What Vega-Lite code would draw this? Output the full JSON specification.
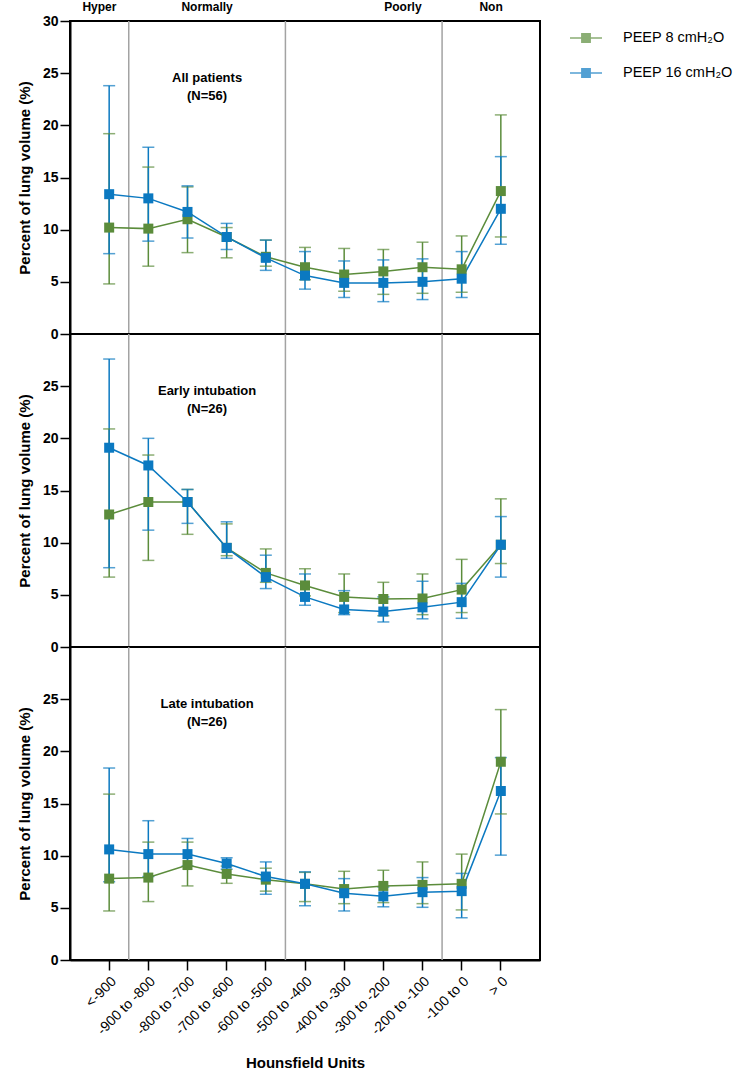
{
"$schema":"https://vega.github.io/schema/vega-lite/v6.json",
"padding":{"left":16,"top":0,"right":5,"bottom":5},
"spacing":0,
"bounds":"flush",
"config":{"font":"Liberation Sans","view":{"stroke":"black","strokeWidth":2},
"axis":{"domainColor":"black","domainWidth":2,"tickColor":"black","tickWidth":1.5,"tickSize":10,"labelColor":"black","titleColor":"black","grid":false},
"axisY":{"labelFontSize":14,"labelFontWeight":"bold","titleFontSize":15,"titleFontWeight":"bold","labelPadding":2,"titlePadding":10},
"axisX":{"labelFontSize":14,"labelPadding":4,"titleFontSize":15,"titleFontWeight":"bold","titlePadding":18}},
"datasets":{
"bounds":[{"hu":"<-900"},{"hu":"-600 to -500"},{"hu":"-200 to -100"}],
"regA":[{"hu":"<-900","t":"Hyper"},{"hu":"> 0","t":"Non"}],
"regB":[{"hu":"-800 to -700","t":"Normally"},{"hu":"-300 to -200","t":"Poorly"}],
"titles":[{"p":"all","hu":"-800 to -700","t":"All patients\n(N=56)"},{"p":"early","hu":"-800 to -700","t":"Early intubation\n(N=26)"},{"p":"late","hu":"-800 to -700","t":"Late intubation\n(N=26)"}],
"d":[
{"p":"all","g":"PEEP 8 cmH₂O","hu":"<-900","m":10.2,"lo":4.8,"hi":19.2},
{"p":"all","g":"PEEP 8 cmH₂O","hu":"-900 to -800","m":10.1,"lo":6.5,"hi":16.0},
{"p":"all","g":"PEEP 8 cmH₂O","hu":"-800 to -700","m":11.0,"lo":7.8,"hi":14.1},
{"p":"all","g":"PEEP 8 cmH₂O","hu":"-700 to -600","m":9.3,"lo":7.3,"hi":10.2},
{"p":"all","g":"PEEP 8 cmH₂O","hu":"-600 to -500","m":7.4,"lo":6.5,"hi":9.0},
{"p":"all","g":"PEEP 8 cmH₂O","hu":"-500 to -400","m":6.4,"lo":5.2,"hi":8.3},
{"p":"all","g":"PEEP 8 cmH₂O","hu":"-400 to -300","m":5.7,"lo":4.1,"hi":8.2},
{"p":"all","g":"PEEP 8 cmH₂O","hu":"-300 to -200","m":6.0,"lo":3.8,"hi":8.1},
{"p":"all","g":"PEEP 8 cmH₂O","hu":"-200 to -100","m":6.4,"lo":3.9,"hi":8.8},
{"p":"all","g":"PEEP 8 cmH₂O","hu":"-100 to 0","m":6.2,"lo":4.0,"hi":9.4},
{"p":"all","g":"PEEP 8 cmH₂O","hu":"> 0","m":13.7,"lo":9.3,"hi":21.0},
{"p":"early","g":"PEEP 8 cmH₂O","hu":"<-900","m":12.7,"lo":6.7,"hi":20.9},
{"p":"early","g":"PEEP 8 cmH₂O","hu":"-900 to -800","m":13.9,"lo":8.3,"hi":18.4},
{"p":"early","g":"PEEP 8 cmH₂O","hu":"-800 to -700","m":13.9,"lo":10.8,"hi":15.1},
{"p":"early","g":"PEEP 8 cmH₂O","hu":"-700 to -600","m":9.5,"lo":8.75,"hi":11.8},
{"p":"early","g":"PEEP 8 cmH₂O","hu":"-600 to -500","m":7.1,"lo":6.2,"hi":9.4},
{"p":"early","g":"PEEP 8 cmH₂O","hu":"-500 to -400","m":5.9,"lo":4.9,"hi":7.5},
{"p":"early","g":"PEEP 8 cmH₂O","hu":"-400 to -300","m":4.8,"lo":3.3,"hi":7.0},
{"p":"early","g":"PEEP 8 cmH₂O","hu":"-300 to -200","m":4.6,"lo":3.0,"hi":6.2},
{"p":"early","g":"PEEP 8 cmH₂O","hu":"-200 to -100","m":4.65,"lo":3.1,"hi":7.0},
{"p":"early","g":"PEEP 8 cmH₂O","hu":"-100 to 0","m":5.5,"lo":3.3,"hi":8.4},
{"p":"early","g":"PEEP 8 cmH₂O","hu":"> 0","m":9.8,"lo":8.0,"hi":14.2},
{"p":"late","g":"PEEP 8 cmH₂O","hu":"<-900","m":7.8,"lo":4.7,"hi":15.9},
{"p":"late","g":"PEEP 8 cmH₂O","hu":"-900 to -800","m":7.9,"lo":5.6,"hi":11.3},
{"p":"late","g":"PEEP 8 cmH₂O","hu":"-800 to -700","m":9.1,"lo":7.1,"hi":11.3},
{"p":"late","g":"PEEP 8 cmH₂O","hu":"-700 to -600","m":8.25,"lo":7.35,"hi":9.0},
{"p":"late","g":"PEEP 8 cmH₂O","hu":"-600 to -500","m":7.7,"lo":6.6,"hi":8.8},
{"p":"late","g":"PEEP 8 cmH₂O","hu":"-500 to -400","m":7.3,"lo":5.6,"hi":8.4},
{"p":"late","g":"PEEP 8 cmH₂O","hu":"-400 to -300","m":6.8,"lo":5.4,"hi":8.5},
{"p":"late","g":"PEEP 8 cmH₂O","hu":"-300 to -200","m":7.1,"lo":5.5,"hi":8.6},
{"p":"late","g":"PEEP 8 cmH₂O","hu":"-200 to -100","m":7.2,"lo":5.4,"hi":9.4},
{"p":"late","g":"PEEP 8 cmH₂O","hu":"-100 to 0","m":7.3,"lo":4.8,"hi":10.15},
{"p":"late","g":"PEEP 8 cmH₂O","hu":"> 0","m":19.0,"lo":14.0,"hi":24.0},
{"p":"all","g":"PEEP 16 cmH₂O","hu":"<-900","m":13.4,"lo":7.7,"hi":23.8},
{"p":"all","g":"PEEP 16 cmH₂O","hu":"-900 to -800","m":13.0,"lo":8.9,"hi":17.9},
{"p":"all","g":"PEEP 16 cmH₂O","hu":"-800 to -700","m":11.7,"lo":9.2,"hi":14.2},
{"p":"all","g":"PEEP 16 cmH₂O","hu":"-700 to -600","m":9.3,"lo":8.1,"hi":10.6},
{"p":"all","g":"PEEP 16 cmH₂O","hu":"-600 to -500","m":7.3,"lo":6.1,"hi":9.0},
{"p":"all","g":"PEEP 16 cmH₂O","hu":"-500 to -400","m":5.6,"lo":4.3,"hi":7.9},
{"p":"all","g":"PEEP 16 cmH₂O","hu":"-400 to -300","m":4.9,"lo":3.5,"hi":7.0},
{"p":"all","g":"PEEP 16 cmH₂O","hu":"-300 to -200","m":4.9,"lo":3.1,"hi":7.1},
{"p":"all","g":"PEEP 16 cmH₂O","hu":"-200 to -100","m":5.0,"lo":3.3,"hi":7.2},
{"p":"all","g":"PEEP 16 cmH₂O","hu":"-100 to 0","m":5.3,"lo":3.5,"hi":7.9},
{"p":"all","g":"PEEP 16 cmH₂O","hu":"> 0","m":12.0,"lo":8.6,"hi":17.0},
{"p":"early","g":"PEEP 16 cmH₂O","hu":"<-900","m":19.1,"lo":7.6,"hi":27.6},
{"p":"early","g":"PEEP 16 cmH₂O","hu":"-900 to -800","m":17.4,"lo":11.2,"hi":20.0},
{"p":"early","g":"PEEP 16 cmH₂O","hu":"-800 to -700","m":13.9,"lo":11.85,"hi":15.1},
{"p":"early","g":"PEEP 16 cmH₂O","hu":"-700 to -600","m":9.5,"lo":8.5,"hi":12.0},
{"p":"early","g":"PEEP 16 cmH₂O","hu":"-600 to -500","m":6.7,"lo":5.6,"hi":8.8},
{"p":"early","g":"PEEP 16 cmH₂O","hu":"-500 to -400","m":4.8,"lo":4.0,"hi":7.0},
{"p":"early","g":"PEEP 16 cmH₂O","hu":"-400 to -300","m":3.6,"lo":3.1,"hi":5.4},
{"p":"early","g":"PEEP 16 cmH₂O","hu":"-300 to -200","m":3.4,"lo":2.4,"hi":4.8},
{"p":"early","g":"PEEP 16 cmH₂O","hu":"-200 to -100","m":3.8,"lo":2.7,"hi":6.3},
{"p":"early","g":"PEEP 16 cmH₂O","hu":"-100 to 0","m":4.3,"lo":2.75,"hi":6.1},
{"p":"early","g":"PEEP 16 cmH₂O","hu":"> 0","m":9.8,"lo":6.7,"hi":12.5},
{"p":"late","g":"PEEP 16 cmH₂O","hu":"<-900","m":10.6,"lo":7.5,"hi":18.4},
{"p":"late","g":"PEEP 16 cmH₂O","hu":"-900 to -800","m":10.15,"lo":8.0,"hi":13.35},
{"p":"late","g":"PEEP 16 cmH₂O","hu":"-800 to -700","m":10.15,"lo":9.0,"hi":11.65},
{"p":"late","g":"PEEP 16 cmH₂O","hu":"-700 to -600","m":9.25,"lo":8.7,"hi":9.8},
{"p":"late","g":"PEEP 16 cmH₂O","hu":"-600 to -500","m":8.0,"lo":6.3,"hi":9.4},
{"p":"late","g":"PEEP 16 cmH₂O","hu":"-500 to -400","m":7.3,"lo":5.2,"hi":8.45},
{"p":"late","g":"PEEP 16 cmH₂O","hu":"-400 to -300","m":6.4,"lo":4.7,"hi":7.8},
{"p":"late","g":"PEEP 16 cmH₂O","hu":"-300 to -200","m":6.1,"lo":5.1,"hi":7.0},
{"p":"late","g":"PEEP 16 cmH₂O","hu":"-200 to -100","m":6.5,"lo":5.05,"hi":7.9},
{"p":"late","g":"PEEP 16 cmH₂O","hu":"-100 to 0","m":6.6,"lo":4.05,"hi":8.3},
{"p":"late","g":"PEEP 16 cmH₂O","hu":"> 0","m":16.2,"lo":10.05,"hi":19.4}
]},
"vconcat":[
{"width":470,"height":313,
"layer":[
{"data":{"name":"bounds"},"mark":{"type":"rule","color":"#a3a3a3","strokeWidth":1.5},
"encoding":{"x":{"field":"hu","type":"ordinal","bandPosition":1,"sort":["<-900","-900 to -800","-800 to -700","-700 to -600","-600 to -500","-500 to -400","-400 to -300","-300 to -200","-200 to -100","-100 to 0","> 0"],"scale":{"domain":["<-900","-900 to -800","-800 to -700","-700 to -600","-600 to -500","-500 to -400","-400 to -300","-300 to -200","-200 to -100","-100 to 0","> 0"],"paddingInner":0,"paddingOuter":0.5},"axis":null}}},
{"data":{"name":"d"},"transform":[{"filter":"datum.p==='all'"}],"mark":{"type":"rule","strokeWidth":1.5},
"encoding":{"x":{"field":"hu","type":"ordinal","sort":["<-900","-900 to -800","-800 to -700","-700 to -600","-600 to -500","-500 to -400","-400 to -300","-300 to -200","-200 to -100","-100 to 0","> 0"],"axis":null},
"y":{"field":"lo","type":"quantitative","scale":{"domain":[0,30],"nice":false},"axis":{"values":[0,5,10,15,20,25,30],"title":"Percent of lung volume (%)"}},"y2":{"field":"hi"},
"color":{"field":"g","type":"nominal","scale":{"domain":["PEEP 8 cmH₂O","PEEP 16 cmH₂O"],"range":["#5B8C3B","#0B79C1"]}}}},
{"data":{"name":"d"},"transform":[{"filter":"datum.p==='all'"}],"mark":{"type":"tick","size":12,"thickness":1.5},
"encoding":{"x":{"field":"hu","type":"ordinal","sort":["<-900","-900 to -800","-800 to -700","-700 to -600","-600 to -500","-500 to -400","-400 to -300","-300 to -200","-200 to -100","-100 to 0","> 0"],"axis":null},
"y":{"field":"lo","type":"quantitative","axis":{"values":[0,5,10,15,20,25,30],"title":"Percent of lung volume (%)"}},
"color":{"field":"g","type":"nominal"}}},
{"data":{"name":"d"},"transform":[{"filter":"datum.p==='all'"}],"mark":{"type":"tick","size":12,"thickness":1.5},
"encoding":{"x":{"field":"hu","type":"ordinal","sort":["<-900","-900 to -800","-800 to -700","-700 to -600","-600 to -500","-500 to -400","-400 to -300","-300 to -200","-200 to -100","-100 to 0","> 0"],"axis":null},
"y":{"field":"hi","type":"quantitative","axis":{"values":[0,5,10,15,20,25,30],"title":"Percent of lung volume (%)"}},
"color":{"field":"g","type":"nominal"}}},
{"data":{"name":"d"},"transform":[{"filter":"datum.p==='all'"}],"mark":{"type":"line","strokeWidth":1.5},
"encoding":{"x":{"field":"hu","type":"ordinal","sort":["<-900","-900 to -800","-800 to -700","-700 to -600","-600 to -500","-500 to -400","-400 to -300","-300 to -200","-200 to -100","-100 to 0","> 0"],"axis":null},
"y":{"field":"m","type":"quantitative","axis":{"values":[0,5,10,15,20,25,30],"title":"Percent of lung volume (%)"}},
"color":{"field":"g","type":"nominal"}}},
{"data":{"name":"d"},"transform":[{"filter":"datum.p==='all'"}],"mark":{"type":"square","size":100,"opacity":1},
"encoding":{"x":{"field":"hu","type":"ordinal","sort":["<-900","-900 to -800","-800 to -700","-700 to -600","-600 to -500","-500 to -400","-400 to -300","-300 to -200","-200 to -100","-100 to 0","> 0"],"axis":null},
"y":{"field":"m","type":"quantitative","axis":{"values":[0,5,10,15,20,25,30],"title":"Percent of lung volume (%)"}},
"color":{"field":"g","type":"nominal","legend":{"title":null,"orient":"right","offset":28,"padding":0,"labelFontSize":14.5,"labelColor":"black","labelOffset":20,"symbolType":"M-1,0H1M-0.26,-0.26H0.26V0.26H-0.26Z","symbolSize":1024,"symbolStrokeWidth":1.5,"rowPadding":10,"encode":{"symbols":{"update":{"fill":{"scale":"color","field":"value"},"stroke":{"scale":"color","field":"value"},"opacity":{"value":1}}}}}}}},
{"data":{"name":"titles"},"transform":[{"filter":"datum.p==='all'"}],"mark":{"type":"text","fontSize":13,"fontWeight":"bold","lineBreak":"\n","lineHeight":18,"color":"black"},
"encoding":{"x":{"field":"hu","type":"ordinal","bandPosition":1,"sort":["<-900","-900 to -800","-800 to -700","-700 to -600","-600 to -500","-500 to -400","-400 to -300","-300 to -200","-200 to -100","-100 to 0","> 0"],"axis":null},
"y":{"datum":24.5,"type":"quantitative"},"text":{"field":"t"}}},
{"data":{"name":"regA"},"mark":{"type":"text","fontSize":12,"fontWeight":"bold","dy":-14,"color":"black"},
"encoding":{"x":{"field":"hu","type":"ordinal","bandPosition":0.25,"sort":["<-900","-900 to -800","-800 to -700","-700 to -600","-600 to -500","-500 to -400","-400 to -300","-300 to -200","-200 to -100","-100 to 0","> 0"],"axis":null},
"y":{"datum":30,"type":"quantitative"},"text":{"field":"t"}}},
{"data":{"name":"regB"},"mark":{"type":"text","fontSize":12,"fontWeight":"bold","dy":-14,"color":"black"},
"encoding":{"x":{"field":"hu","type":"ordinal","bandPosition":1,"sort":["<-900","-900 to -800","-800 to -700","-700 to -600","-600 to -500","-500 to -400","-400 to -300","-300 to -200","-200 to -100","-100 to 0","> 0"],"axis":null},
"y":{"datum":30,"type":"quantitative"},"text":{"field":"t"}}}
]},
{"width":470,"height":313,
"layer":[
{"data":{"name":"bounds"},"mark":{"type":"rule","color":"#a3a3a3","strokeWidth":1.5},
"encoding":{"x":{"field":"hu","type":"ordinal","bandPosition":1,"sort":["<-900","-900 to -800","-800 to -700","-700 to -600","-600 to -500","-500 to -400","-400 to -300","-300 to -200","-200 to -100","-100 to 0","> 0"],"scale":{"domain":["<-900","-900 to -800","-800 to -700","-700 to -600","-600 to -500","-500 to -400","-400 to -300","-300 to -200","-200 to -100","-100 to 0","> 0"],"paddingInner":0,"paddingOuter":0.5},"axis":null}}},
{"data":{"name":"d"},"transform":[{"filter":"datum.p==='early'"}],"mark":{"type":"rule","strokeWidth":1.5},
"encoding":{"x":{"field":"hu","type":"ordinal","sort":["<-900","-900 to -800","-800 to -700","-700 to -600","-600 to -500","-500 to -400","-400 to -300","-300 to -200","-200 to -100","-100 to 0","> 0"],"axis":null},
"y":{"field":"lo","type":"quantitative","scale":{"domain":[0,30],"nice":false},"axis":{"values":[0,5,10,15,20,25],"title":"Percent of lung volume (%)"}},"y2":{"field":"hi"},
"color":{"field":"g","type":"nominal","scale":{"domain":["PEEP 8 cmH₂O","PEEP 16 cmH₂O"],"range":["#5B8C3B","#0B79C1"]}}}},
{"data":{"name":"d"},"transform":[{"filter":"datum.p==='early'"}],"mark":{"type":"tick","size":12,"thickness":1.5},
"encoding":{"x":{"field":"hu","type":"ordinal","sort":["<-900","-900 to -800","-800 to -700","-700 to -600","-600 to -500","-500 to -400","-400 to -300","-300 to -200","-200 to -100","-100 to 0","> 0"],"axis":null},
"y":{"field":"lo","type":"quantitative","axis":{"values":[0,5,10,15,20,25],"title":"Percent of lung volume (%)"}},
"color":{"field":"g","type":"nominal"}}},
{"data":{"name":"d"},"transform":[{"filter":"datum.p==='early'"}],"mark":{"type":"tick","size":12,"thickness":1.5},
"encoding":{"x":{"field":"hu","type":"ordinal","sort":["<-900","-900 to -800","-800 to -700","-700 to -600","-600 to -500","-500 to -400","-400 to -300","-300 to -200","-200 to -100","-100 to 0","> 0"],"axis":null},
"y":{"field":"hi","type":"quantitative","axis":{"values":[0,5,10,15,20,25],"title":"Percent of lung volume (%)"}},
"color":{"field":"g","type":"nominal"}}},
{"data":{"name":"d"},"transform":[{"filter":"datum.p==='early'"}],"mark":{"type":"line","strokeWidth":1.5},
"encoding":{"x":{"field":"hu","type":"ordinal","sort":["<-900","-900 to -800","-800 to -700","-700 to -600","-600 to -500","-500 to -400","-400 to -300","-300 to -200","-200 to -100","-100 to 0","> 0"],"axis":null},
"y":{"field":"m","type":"quantitative","axis":{"values":[0,5,10,15,20,25],"title":"Percent of lung volume (%)"}},
"color":{"field":"g","type":"nominal"}}},
{"data":{"name":"d"},"transform":[{"filter":"datum.p==='early'"}],"mark":{"type":"square","size":100,"opacity":1},
"encoding":{"x":{"field":"hu","type":"ordinal","sort":["<-900","-900 to -800","-800 to -700","-700 to -600","-600 to -500","-500 to -400","-400 to -300","-300 to -200","-200 to -100","-100 to 0","> 0"],"axis":null},
"y":{"field":"m","type":"quantitative","axis":{"values":[0,5,10,15,20,25],"title":"Percent of lung volume (%)"}},
"color":{"field":"g","type":"nominal"}}},
{"data":{"name":"titles"},"transform":[{"filter":"datum.p==='early'"}],"mark":{"type":"text","fontSize":13,"fontWeight":"bold","lineBreak":"\n","lineHeight":18,"color":"black"},
"encoding":{"x":{"field":"hu","type":"ordinal","bandPosition":1,"sort":["<-900","-900 to -800","-800 to -700","-700 to -600","-600 to -500","-500 to -400","-400 to -300","-300 to -200","-200 to -100","-100 to 0","> 0"],"axis":null},
"y":{"datum":24.5,"type":"quantitative"},"text":{"field":"t"}}}
]},
{"width":470,"height":313,
"layer":[
{"data":{"name":"bounds"},"mark":{"type":"rule","color":"#a3a3a3","strokeWidth":1.5},
"encoding":{"x":{"field":"hu","type":"ordinal","bandPosition":1,"sort":["<-900","-900 to -800","-800 to -700","-700 to -600","-600 to -500","-500 to -400","-400 to -300","-300 to -200","-200 to -100","-100 to 0","> 0"],"scale":{"domain":["<-900","-900 to -800","-800 to -700","-700 to -600","-600 to -500","-500 to -400","-400 to -300","-300 to -200","-200 to -100","-100 to 0","> 0"],"paddingInner":0,"paddingOuter":0.5},"axis":{"title":"Hounsfield Units","labelAngle":-45}}}},
{"data":{"name":"d"},"transform":[{"filter":"datum.p==='late'"}],"mark":{"type":"rule","strokeWidth":1.5},
"encoding":{"x":{"field":"hu","type":"ordinal","sort":["<-900","-900 to -800","-800 to -700","-700 to -600","-600 to -500","-500 to -400","-400 to -300","-300 to -200","-200 to -100","-100 to 0","> 0"],"axis":{"title":"Hounsfield Units","labelAngle":-45}},
"y":{"field":"lo","type":"quantitative","scale":{"domain":[0,30],"nice":false},"axis":{"values":[0,5,10,15,20,25],"title":"Percent of lung volume (%)"}},"y2":{"field":"hi"},
"color":{"field":"g","type":"nominal","scale":{"domain":["PEEP 8 cmH₂O","PEEP 16 cmH₂O"],"range":["#5B8C3B","#0B79C1"]}}}},
{"data":{"name":"d"},"transform":[{"filter":"datum.p==='late'"}],"mark":{"type":"tick","size":12,"thickness":1.5},
"encoding":{"x":{"field":"hu","type":"ordinal","sort":["<-900","-900 to -800","-800 to -700","-700 to -600","-600 to -500","-500 to -400","-400 to -300","-300 to -200","-200 to -100","-100 to 0","> 0"],"axis":{"title":"Hounsfield Units","labelAngle":-45}},
"y":{"field":"lo","type":"quantitative","axis":{"values":[0,5,10,15,20,25],"title":"Percent of lung volume (%)"}},
"color":{"field":"g","type":"nominal"}}},
{"data":{"name":"d"},"transform":[{"filter":"datum.p==='late'"}],"mark":{"type":"tick","size":12,"thickness":1.5},
"encoding":{"x":{"field":"hu","type":"ordinal","sort":["<-900","-900 to -800","-800 to -700","-700 to -600","-600 to -500","-500 to -400","-400 to -300","-300 to -200","-200 to -100","-100 to 0","> 0"],"axis":{"title":"Hounsfield Units","labelAngle":-45}},
"y":{"field":"hi","type":"quantitative","axis":{"values":[0,5,10,15,20,25],"title":"Percent of lung volume (%)"}},
"color":{"field":"g","type":"nominal"}}},
{"data":{"name":"d"},"transform":[{"filter":"datum.p==='late'"}],"mark":{"type":"line","strokeWidth":1.5},
"encoding":{"x":{"field":"hu","type":"ordinal","sort":["<-900","-900 to -800","-800 to -700","-700 to -600","-600 to -500","-500 to -400","-400 to -300","-300 to -200","-200 to -100","-100 to 0","> 0"],"axis":{"title":"Hounsfield Units","labelAngle":-45}},
"y":{"field":"m","type":"quantitative","axis":{"values":[0,5,10,15,20,25],"title":"Percent of lung volume (%)"}},
"color":{"field":"g","type":"nominal"}}},
{"data":{"name":"d"},"transform":[{"filter":"datum.p==='late'"}],"mark":{"type":"square","size":100,"opacity":1},
"encoding":{"x":{"field":"hu","type":"ordinal","sort":["<-900","-900 to -800","-800 to -700","-700 to -600","-600 to -500","-500 to -400","-400 to -300","-300 to -200","-200 to -100","-100 to 0","> 0"],"axis":{"title":"Hounsfield Units","labelAngle":-45}},
"y":{"field":"m","type":"quantitative","axis":{"values":[0,5,10,15,20,25],"title":"Percent of lung volume (%)"}},
"color":{"field":"g","type":"nominal"}}},
{"data":{"name":"titles"},"transform":[{"filter":"datum.p==='late'"}],"mark":{"type":"text","fontSize":13,"fontWeight":"bold","lineBreak":"\n","lineHeight":18,"color":"black"},
"encoding":{"x":{"field":"hu","type":"ordinal","bandPosition":1,"sort":["<-900","-900 to -800","-800 to -700","-700 to -600","-600 to -500","-500 to -400","-400 to -300","-300 to -200","-200 to -100","-100 to 0","> 0"],"axis":{"title":"Hounsfield Units","labelAngle":-45}},
"y":{"datum":24.5,"type":"quantitative"},"text":{"field":"t"}}}
]}
]}
